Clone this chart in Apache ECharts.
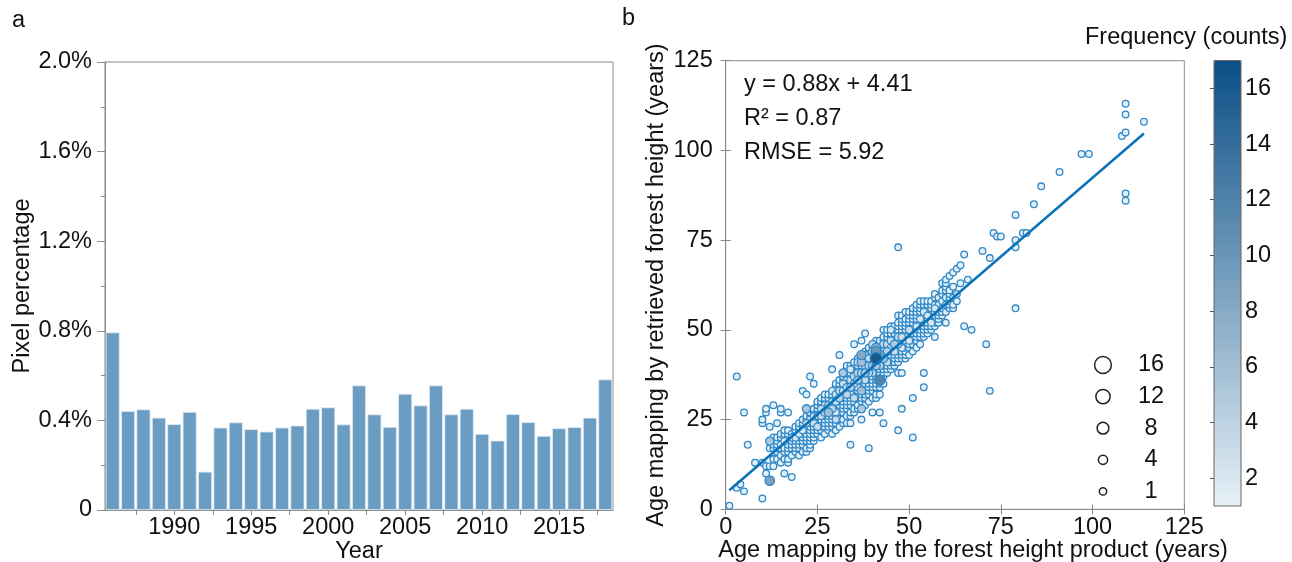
<!DOCTYPE html>
<html><head><meta charset="utf-8">
<script src="https://cdn.jsdelivr.net/npm/echarts@6/dist/echarts.min.js"></script>
<style>html,body{margin:0;padding:0;background:#fff}#c{width:1292px;height:562px}</style>
</head><body><div id="c"></div>
<script>
// ---------- Panel a data ----------
const years = [1986,1987,1988,1989,1990,1991,1992,1993,1994,1995,1996,1997,1998,1999,2000,2001,2002,2003,2004,2005,2006,2007,2008,2009,2010,2011,2012,2013,2014,2015,2016,2017,2018];
const pixelPercent = [0.793,0.442,0.449,0.412,0.383,0.438,0.171,0.368,0.391,0.361,0.350,0.368,0.377,0.452,0.458,0.382,0.556,0.427,0.371,0.519,0.467,0.556,0.427,0.452,0.340,0.310,0.428,0.392,0.331,0.365,0.370,0.412,0.583];
const yearLabelValues = [1990,1995,2000,2005,2010,2015];
const yearTickValues = [1987.5,1990,1992.5,1995,1997.5,2000,2002.5,2005,2007.5,2010,2012.5,2015,2017.5];

// ---------- Panel b data ----------
// [x age, list of y ages] ; every listed cell has count 1 unless given in scatterCounts
const scatterColumns = [
 [1,[1]],[3,[6,37]],[4,[7]],[5,[5,27]],[6,[18]],[8,[13]],
 [10,[3,13,24,25]],[11,[10,12,27,28]],[12,[8,12,17,19,23]],
 [13,[12,14,17,18,20,29]],[14,[14,16,17,18,19,20,24]],
 [15,[13,15,17,18,20,21,27,28]],[16,[10,14,16,17,19,20,21,22]],
 [17,[13,14,16,17,18,20,21,22,27]],[18,[9,15,17,18,19,20,21]],
 [19,[16,17,18,19,20,21,22,23]],[20,[15,17,18,19,20,21,22,23,24]],
 [21,[16,18,19,20,21,22,23,24,25,33]],[22,[16,17,19,20,21,22,23,24,25,26,28,32]],
 [23,[17,18,19,20,21,22,23,24,25,26,27,37]],[24,[19,20,21,22,23,24,25,26,27,28,35]],
 [25,[21,22,23,24,25,26,27,28,29,30]],[26,[20,22,23,24,25,26,27,28,29,30,31]],
 [27,[21,23,24,25,26,27,28,29,30,31,32]],[28,[22,23,24,25,26,27,28,29,30,31,32]],
 [29,[21,23,24,25,26,27,28,29,30,31,32,33,39]],[30,[22,24,25,26,27,28,29,30,31,32,33,34,35]],
 [31,[23,25,26,27,28,29,30,31,32,33,34,35,36,43]],[32,[24,25,27,28,29,30,31,32,33,34,35,36,37,38]],
 [33,[24,26,28,29,30,31,32,33,34,35,36,37,38,39,40]],[34,[18,24,26,27,29,30,31,32,33,34,35,36,37,38,39,40]],
 [35,[27,28,30,31,32,33,34,35,36,37,38,39,40,41,46]],[36,[28,29,31,32,33,34,35,36,37,38,39,40,41,42]],
 [37,[25,28,30,31,32,33,34,35,36,37,38,39,40,41,42,43,47]],[38,[29,31,32,33,34,35,36,37,38,39,40,41,42,43,44,49]],
 [39,[17,30,32,33,34,35,36,37,38,39,40,41,42,43,44,45]],[40,[27,31,33,34,35,36,37,38,39,40,41,42,43,44,45,46]],
 [41,[31,32,34,35,36,37,38,39,40,41,42,43,44,45,46,47]],[42,[27,32,34,35,36,37,38,39,40,41,42,43,44,45,46,47]],
 [43,[24,35,37,38,39,40,41,42,43,44,45,46,47,48,50]],[44,[38,39,40,41,42,43,44,45,46,47,48,49,50]],
 [45,[39,40,41,42,43,44,45,46,47,48,49,50,51]],[46,[40,41,42,43,44,45,46,47,48,49,50,51]],
 [47,[22,38,41,42,43,44,45,46,47,48,49,50,51,52,54,73]],[48,[28,38,42,43,44,45,46,47,48,49,50,51,52,53,54]],
 [49,[42,43,44,45,46,47,48,49,50,51,52,53,55]],[50,[43,45,46,47,48,49,50,51,52,53,54,55]],
 [51,[20,31,44,46,47,48,49,50,51,52,53,54,55,56]],[52,[45,47,48,49,50,51,52,53,54,55,56,57]],
 [53,[46,48,49,50,51,52,53,54,55,56,57,58]],[54,[34,38,48,49,50,51,52,53,54,55,56,57,58]],
 [55,[49,50,51,52,53,54,55,56,57,58]],[56,[50,51,52,53,54,55,56,57,58]],
 [57,[48,51,52,53,54,55,56,57,59,60]],[58,[52,53,54,55,56,57,59]],
 [59,[54,55,56,58,60,61,63]],[60,[52,55,57,59,61,62,63,64]],
 [61,[56,57,58,59,60,61,65]],[62,[56,57,59,62,66]],[63,[58,60,67]],[64,[63,68]],
 [65,[51,71]],[66,[64]],[67,[50]],[70,[72]],[71,[46]],[72,[33,70]],[73,[77]],[74,[76]],[75,[76]],
 [79,[56,73,75,82]],[81,[77]],[82,[77]],[84,[85]],[86,[90]],[91,[94]],[97,[99]],[99,[99]],
 [108,[104]],[109,[86,88,105,110,113]],[114,[108]]
];
// [x, y, count] for cells with more than one pixel
const scatterCounts = [
 [12,8,9],[12,19,5],[22,28,5],[28,27,6],[37,28,5],[37,33,6],[32,38,5],[37,43,8],[37,41,6],
 [41,42,16],[41,44,10],[41,45,8],[42,36,12],[46,46,5],[25,23,3],[26,28,3],[33,32,4],[30,30,3],
 [35,35,3],[39,38,4],[40,40,5],[43,42,6],[42,43,9],[44,44,4],[45,47,3],[47,46,3],[48,48,3],
 [50,50,3],[34,36,3],[36,38,4],[38,40,4],[31,33,3],[27,29,2],[29,30,2],[24,26,2],[20,21,2],
 [18,20,2],[16,19,2],[23,25,2],[52,51,2],[55,54,2],[33,36,2],[39,42,3],[40,44,4],[43,46,3],
 [44,41,3],[38,36,3],[36,34,2],[34,32,2],[30,27,2],
 [28,29,3],[29,28,4],[30,32,3],[31,31,4],[32,33,3],[33,34,3],[34,34,4],[35,37,4],[36,36,5],
 [37,38,4],[38,38,5],[39,40,4],[40,38,3],[41,40,5],[42,40,4],[43,44,4],[44,46,3],[45,45,3],
 [46,44,3],[47,48,3],[49,48,2],[26,26,3],[27,27,4],[25,26,2],[24,24,3],[22,24,3],[21,22,2],
 [19,20,2],[30,25,3],[35,31,3],[38,43,3],[40,46,3],[36,41,3],[34,39,2],[32,35,3],[29,33,2],
 [45,50,2],[48,45,2],[50,47,2],[53,53,2],[54,55,2],[56,52,2],[57,56,2]
];
const fitSlope = 0.88, fitIntercept = 4.41, fitXRange = [1, 114];
const statLines = ['y = 0.88x + 4.41', 'R\u00b2 = 0.87', 'RMSE = 5.92'];
const sizeLegendValues = [16, 12, 8, 4, 1];
const colorbarTicks = [2,4,6,8,10,12,14,16];

// ---------- build ----------
const cellMap = new Map();
scatterColumns.forEach(([x, ys]) => ys.forEach(y => cellMap.set(x + ',' + y, [x, y, 1])));
scatterCounts.forEach(([x, y, c]) => cellMap.set(x + ',' + y, [x, y, c]));
const scatterData = Array.from(cellMap.values()).sort((a, b) => a[2] - b[2]);
const fitLine = fitXRange.map(x => [x, fitSlope * x + fitIntercept]);

const FONT = '"Liberation Sans", Arial, sans-serif';
const FS = 23.5;
const TXT = '#111';
const AX = '#8a8a8a';
const dataSize = c => 6.3 + 0.36 * c;
const legendSize = c => 6.7 + 0.63 * c;

const gridB = {left: 725.7, top: 60.7, width: 458.6, height: 448.6};

const graphics = [
  {type:'text', left: 12, top: 9, style:{text:'a', font:`${FS}px ${FONT}`, fill:TXT}},
  {type:'text', left: 622, top: 7, style:{text:'b', font:`${FS}px ${FONT}`, fill:TXT}},
  {type:'text', left: 1085, top: 26, style:{text:'Frequency (counts)', font:`${FS}px ${FONT}`, fill:TXT}}
];
statLines.forEach((t, i) => graphics.push({type:'text', left: 744, top: 73 + i * 34, style:{text:t, font:`${FS}px ${FONT}`, fill:TXT}}));
sizeLegendValues.forEach((v, i) => {
  const cy = 365 + i * 31.6;
  graphics.push({type:'circle', shape:{cx:1103, cy:cy, r:legendSize(v)/2}, style:{fill:'#fff', stroke:'#222', lineWidth:1.5}, z:100});
  graphics.push({type:'text', x:1151, y:cy, style:{text:String(v), font:`${FS}px ${FONT}`, fill:TXT, align:'center', verticalAlign:'middle'}, z:100});
});

const chart = echarts.init(document.getElementById('c'), null, {renderer:'canvas'});
const axisText = {color: TXT, fontSize: FS, fontFamily: FONT};
const gridBase = {show:true, borderColor:AX, borderWidth:1, backgroundColor:'transparent', containLabel:false, outerBoundsMode:'none'};
chart.setOption({
  animation: false,
  backgroundColor: '#fff',
  textStyle: {fontFamily: FONT},
  grid: [
    Object.assign({left:105, top:62, width:508, height:448}, gridBase),
    Object.assign({}, gridBase, gridB),
    Object.assign({}, gridBase, {left:1214, top:60.5, width:27, height:445.5, borderColor:'#666', z:10})
  ],
  xAxis: [
    {gridIndex:0, type:'value', min:1985.5, max:2018.5,
     axisLine:{show:true, lineStyle:{color:AX}},
     axisTick:{show:true, length:5, customValues:yearTickValues, lineStyle:{color:AX}},
     axisLabel:Object.assign({customValues:yearLabelValues, margin:6, formatter: v => String(v)}, axisText),
     splitLine:{show:false},
     name:'Year', nameLocation:'middle', nameGap:30, nameMoveOverlap:false, nameTextStyle:axisText},
    {gridIndex:1, type:'value', min:0, max:125, interval:25, position:'bottom',
     axisLine:{show:true, lineStyle:{color:AX}},
     axisTick:{show:true, inside:true, length:5, lineStyle:{color:AX}},
     axisLabel:Object.assign({margin:6}, axisText), splitLine:{show:false},
     name:'Age mapping by the forest height product (years)', nameLocation:'middle', nameGap:29, nameMoveOverlap:false,
     nameTextStyle:Object.assign({padding:[0,0,0,36]}, axisText)},
    {gridIndex:1, type:'value', min:0, max:125, interval:25, position:'top',
     axisLine:{show:true, lineStyle:{color:AX}},
     axisTick:{show:true, inside:true, length:5, lineStyle:{color:AX}},
     axisLabel:{show:false}, splitLine:{show:false}},
    {gridIndex:2, type:'value', show:false, min:0, max:1}
  ],
  yAxis: [
    {gridIndex:0, type:'value', min:0, max:2, interval:0.4,
     axisLine:{show:true, lineStyle:{color:AX}},
     axisTick:{show:true, length:8, lineStyle:{color:AX}},
     minorTick:{show:true, splitNumber:2, length:4, lineStyle:{color:AX}},
     axisLabel:Object.assign({margin:13, formatter: v => v === 0 ? '0' : v.toFixed(1) + '%'}, axisText),
     splitLine:{show:false},
     name:'Pixel percentage', nameLocation:'middle', nameGap:70, nameMoveOverlap:false, nameTextStyle:axisText},
    {gridIndex:1, type:'value', min:0, max:125, interval:25, position:'left',
     axisLine:{show:true, lineStyle:{color:AX}},
     axisTick:{show:true, inside:true, length:5, lineStyle:{color:AX}},
     axisLabel:Object.assign({margin:13}, axisText), splitLine:{show:false},
     name:'Age mapping by retrieved forest height (years)', nameLocation:'middle', nameGap:57, nameMoveOverlap:false, nameTextStyle:axisText},
    {gridIndex:1, type:'value', min:0, max:125, interval:25, position:'right',
     axisLine:{show:true, lineStyle:{color:AX}},
     axisTick:{show:true, inside:true, length:5, lineStyle:{color:AX}},
     axisLabel:{show:false}, splitLine:{show:false}},
    {gridIndex:2, type:'value', min:1, max:17, position:'right',
     axisLine:{show:false},
     axisTick:{show:true, inside:true, length:4, customValues:colorbarTicks, lineStyle:{color:'#555'}},
     axisLabel:Object.assign({customValues:colorbarTicks, margin:4}, axisText),
     splitLine:{show:false}}
  ],
  visualMap: [{
    type:'continuous', seriesIndex:1, dimension:2, min:1, max:17,
    orient:'vertical', left:1214, top:60.5, itemWidth:27, itemHeight:445.5,
    calculable:false, text:null, padding:0, showLabel:false,
    inRange:{color:['#e6f0f7', '#0b4f86']}
  }],
  series: [
    {type:'bar', xAxisIndex:0, yAxisIndex:0, barWidth:14,
     data: years.map((y, i) => [y, pixelPercent[i]]),
     itemStyle:{color:'#6b9cc1', borderColor:'#e4edf4', borderWidth:0.8}},
    {type:'scatter', xAxisIndex:1, yAxisIndex:1, data: scatterData,
     symbol:'circle', symbolSize: d => dataSize(d[2]),
     itemStyle:{borderColor:'#2f88c8', borderWidth:1.3, opacity:1}},
    {type:'line', xAxisIndex:1, yAxisIndex:1, data: fitLine, symbol:'none', z:5,
     lineStyle:{color:'#0a72b6', width:2.5}}
  ],
  graphic: graphics
});
</script>
</body></html>
